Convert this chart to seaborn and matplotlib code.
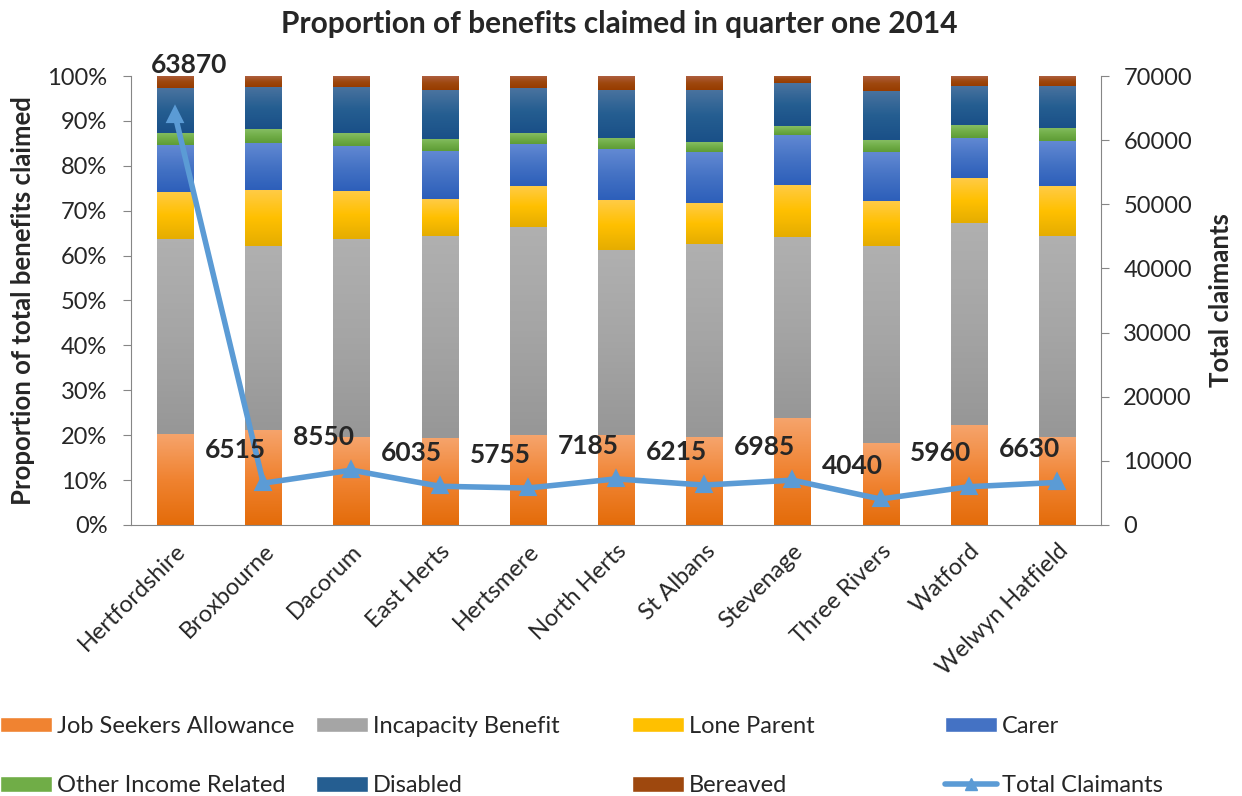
import numpy as np
import pandas as pd
import matplotlib
matplotlib.use("Agg")
import matplotlib.pyplot as plt
import seaborn as sns
from matplotlib.colors import LinearSegmentedColormap
from matplotlib.patches import Patch
from matplotlib.lines import Line2D
from matplotlib.ticker import PercentFormatter, FixedLocator

# data
areas = ["Hertfordshire", "Broxbourne", "Dacorum", "East Herts", "Hertsmere", "North Herts",
         "St Albans", "Stevenage", "Three Rivers", "Watford", "Welwyn Hatfield"]
series = ["Job Seekers Allowance", "Incapacity Benefit", "Lone Parent", "Carer",
          "Other Income Related", "Disabled", "Bereaved"]
jsa = [20.3, 21.2, 19.5, 19.4, 20.0, 20.0, 19.5, 23.9, 18.3, 22.3, 19.6]
incapacity = [43.4, 41.0, 44.2, 45.0, 46.4, 41.3, 43.1, 40.2, 43.9, 45.0, 44.8]
lone_parent = [10.5, 12.4, 10.7, 8.2, 9.1, 11.1, 9.1, 11.6, 10.0, 10.0, 11.1]
carer = [10.4, 10.5, 10.1, 10.7, 9.4, 11.3, 11.4, 11.2, 10.9, 9.0, 10.0]
other_income = [2.7, 3.1, 2.8, 2.7, 2.4, 2.5, 2.2, 2.0, 2.6, 2.8, 2.9]
disabled = [10.0, 9.4, 10.3, 10.9, 10.0, 10.7, 11.6, 9.5, 11.0, 8.7, 9.4]
bereaved = [2.7, 2.4, 2.4, 3.1, 2.7, 3.1, 3.1, 1.6, 3.3, 2.2, 2.2]
total_claimants = [63870, 6515, 8550, 6035, 5755, 7185, 6215, 6985, 4040, 5960, 6630]

# (top, mid, bottom) gradient colours per series
grads = [
    ("#F6A46C", "#F08331", "#E46C0A"),
    ("#B0B0B0", "#A5A5A5", "#979797"),
    ("#FFCB45", "#FFC000", "#E5AD00"),
    ("#6289D3", "#4472C4", "#2D5FBA"),
    ("#85BD62", "#70AD47", "#5E9C36"),
    ("#4A739F", "#255E91", "#1A5088"),
    ("#AE5E3E", "#9E480E", "#973C00"),
]
line_color = "#5B9BD5"
axis_color = "#868686"

sns.set_style("white")
plt.rcParams["font.family"] = ["Lato", "DejaVu Sans"]

df = pd.DataFrame(dict(zip(series, [jsa, incapacity, lone_parent, carer,
                                    other_income, disabled, bereaved])), index=areas)
bottoms = df.cumsum(axis=1) - df

fig = plt.figure(figsize=(12.42, 7.96), dpi=100)
ax = fig.add_axes([0.1055, 0.3405, 0.781, 0.564])

bar_width = 0.41
for name, (top_c, mid_c, bot_c) in zip(series, grads):
    before = len(ax.patches)
    sns.barplot(x=areas, y=df[name].values, bottom=bottoms[name].values, color=mid_c,
                saturation=1, width=bar_width, ax=ax, linewidth=0)
    cmap = LinearSegmentedColormap.from_list(name, [bot_c, mid_c, top_c])
    grad = np.linspace(0, 1, 64).reshape(-1, 1)
    for p in ax.patches[before:]:
        x0, y0 = p.get_x(), p.get_y()
        im = ax.imshow(grad, cmap=cmap, origin="lower", aspect="auto", zorder=p.get_zorder(),
                       extent=(x0, x0 + p.get_width(), y0, y0 + p.get_height()))
        im.set_clip_path(p)

n = len(areas)
ax.set_xlim(-0.5, n - 0.5)
ax.set_ylim(0, 100)
ax.yaxis.set_major_locator(FixedLocator(np.arange(0, 101, 10)))
ax.yaxis.set_major_formatter(PercentFormatter(decimals=0))
ax.set_ylabel("Proportion of total benefits claimed", fontsize=18.5, fontweight="bold", labelpad=9)
ax.set_xlabel("")
ax.set_xticks(range(n))
ax.set_xticklabels(areas, rotation=45, ha="right", rotation_mode="anchor", fontsize=17)
ax.set_xticks(np.arange(-0.5, n, 1), minor=True)
ax.tick_params(axis="x", which="major", length=0, pad=11)
ax.tick_params(axis="x", which="minor", length=6, color=axis_color, direction="out")
ax.tick_params(axis="y", length=6, color=axis_color, direction="out", labelsize=17, pad=11)
for s in ["top", "right"]:
    ax.spines[s].set_visible(False)
for s in ["left", "bottom"]:
    ax.spines[s].set_color(axis_color)

ax2 = ax.twinx()
sns.pointplot(x=areas, y=total_claimants, color=line_color, markers="^", linestyles="-",
              ax=ax2, markersize=9, linewidth=4)
ax2.set_xlim(-0.5, n - 0.5)
ax2.set_ylim(0, 70000)
ax2.yaxis.set_major_locator(FixedLocator(np.arange(0, 70001, 10000)))
ax2.set_ylabel("Total claimants", fontsize=18.5, fontweight="bold", labelpad=12)
ax2.tick_params(axis="y", length=6, color=axis_color, direction="out", labelsize=17, pad=10)
for s in ["top", "left", "bottom"]:
    ax2.spines[s].set_visible(False)
ax2.spines["right"].set_color(axis_color)

for i, v in enumerate(total_claimants):
    off = (10, 36) if i == 0 else (-20, 24)
    ax2.annotate(str(v), xy=(i, v), xytext=off, textcoords="offset points",
                 ha="center", va="center", fontsize=19, fontweight="bold", clip_on=False)

fig.suptitle("Proportion of benefits claimed in quarter one 2014", fontsize=21.5,
             fontweight="bold", x=0.499, y=0.988)

handles = [Patch(facecolor=g[1], label=s) for s, g in zip(series, grads)]
handles.append(Line2D([0], [0], color=line_color, lw=4, marker="^", markersize=9,
                      label="Total Claimants"))
# Excel lays the legend out as 4 equal-width columns of 2 rows
col_x = [0.0, 316 / 1242, 632 / 1242, 945 / 1242]
for c, x in enumerate(col_x):
    pair = [handles[c], handles[c + 4]]
    leg = fig.legend(pair, [h.get_label() for h in pair], ncol=1, loc="center left",
                     bbox_to_anchor=(x, 40 / 796), frameon=False, fontsize=17,
                     handlelength=2.2, handleheight=0.64, handletextpad=0.2,
                     labelspacing=1.62, borderpad=0.0, borderaxespad=0.0)

fig.savefig("out.png", dpi=100)
